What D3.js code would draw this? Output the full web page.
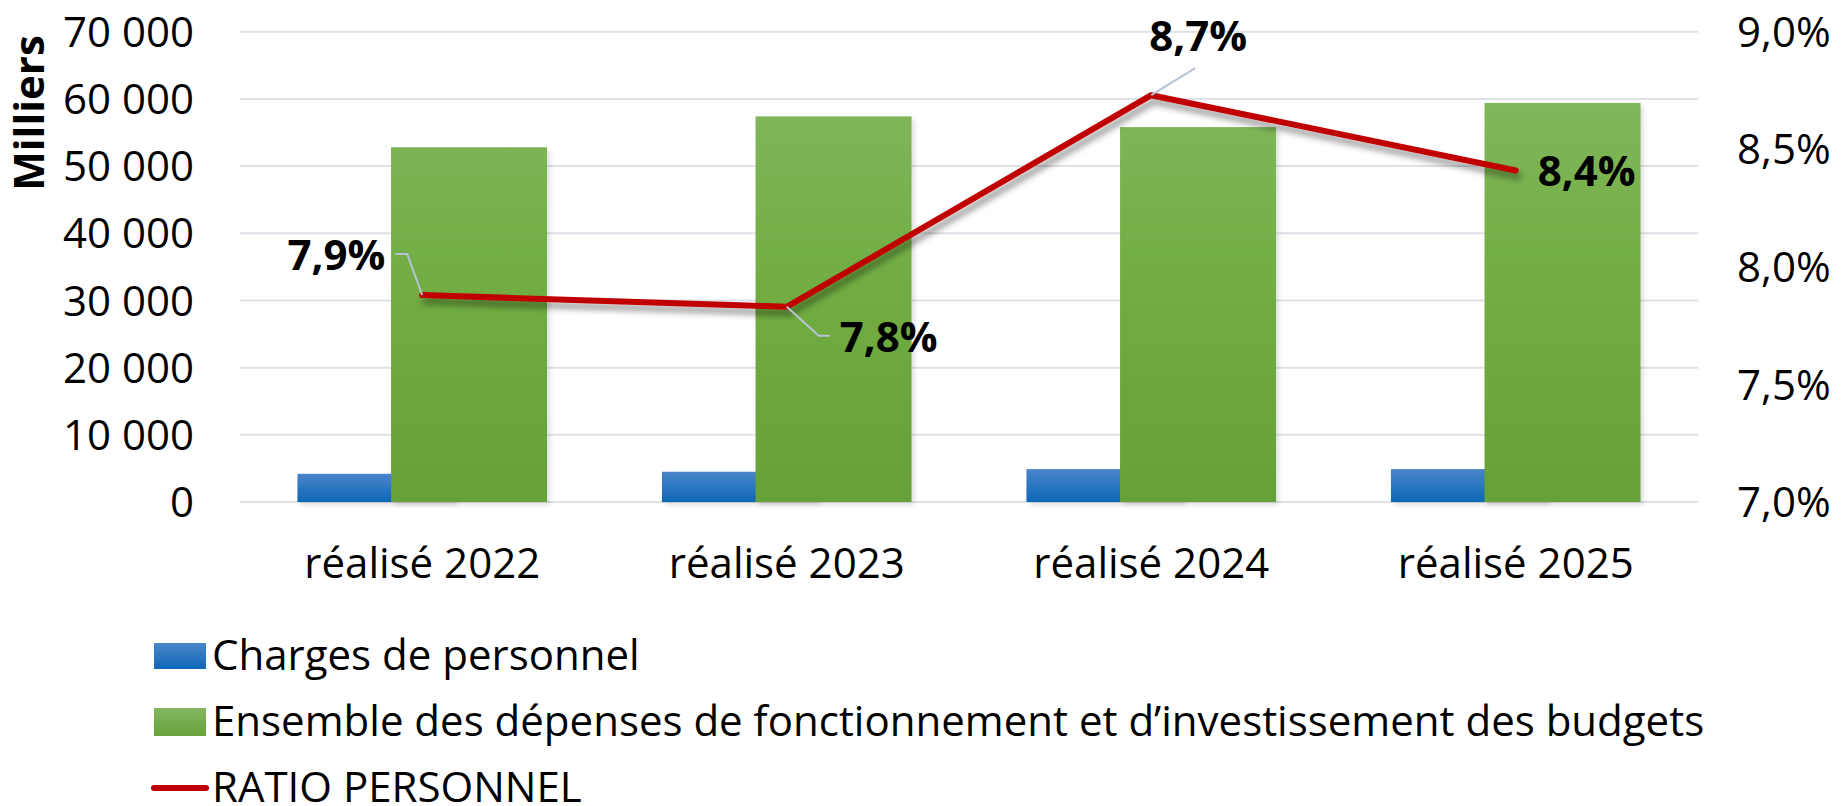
<!DOCTYPE html>
<html>
<head>
<meta charset="utf-8">
<script src="https://cdn.jsdelivr.net/npm/d3@7"></script>
<style>
  html, body { margin: 0; padding: 0; background: #fff; }
  svg text { font-family: "Open Sans", "Noto Sans", sans-serif; fill: #000; }
</style>
</head>
<body>
<svg width="1843" height="806"></svg>
<script>
// données
const categories = ['réalisé 2022', 'réalisé 2023', 'réalisé 2024', 'réalisé 2025'];
const charges = [4200, 4500, 4900, 4900];          // Charges de personnel (milliers)
const depenses = [52800, 57400, 55800, 59400];     // Ensemble des dépenses
const ratio = [7.88, 7.83, 8.73, 8.41];            // RATIO PERSONNEL (%)
const ratioLabels = ['7,9%', '7,8%', '8,7%', '8,4%'];
const leftTicks = [0, 10000, 20000, 30000, 40000, 50000, 60000, 70000];
const rightTicks = [7.0, 7.5, 8.0, 8.5, 9.0];
const legendLabels = ['Charges de personnel',
    'Ensemble des dépenses de fonctionnement et d\u2019investissement des budgets',
    'RATIO PERSONNEL'];

// placement des étiquettes (décalage par rapport au point)
const labelPlacement = [
    { dx: -37, dy: -25, anchor: 'end', leader: [[0, 0], [-15, -41], [-27, -41]] },
    { dx: 53, dy: 45, anchor: 'start', leader: [[0, 0], [32, 29], [43, 29]] },
    { dx: -2, dy: -44, anchor: 'start', leader: [[0, 0], [44, -27]] },
    { dx: 22, dy: 16, anchor: 'start', leader: null }
];

function render() {
    const svg = d3.select('svg');
    const left = 240, right = 1698, top = 31.7, bottom = 502;
    const fs = '42px';

    const x = d3.scaleBand().domain(categories).range([left, right]);
    const yLeft = d3.scaleLinear().domain([0, 70000]).range([bottom, top]);
    const yRight = d3.scaleLinear().domain([7, 9]).range([bottom, top]);

    const barW = x.bandwidth() * 0.428;
    const overlap = barW * 0.4;
    const cluster = barW * 2 - overlap;

    const defs = svg.append('defs');
    const gBlue = defs.append('linearGradient').attr('id', 'gBlue')
        .attr('x1', 0).attr('y1', 0).attr('x2', 0).attr('y2', 1);
    gBlue.append('stop').attr('offset', '0%').attr('stop-color', '#4a85c9');
    gBlue.append('stop').attr('offset', '100%').attr('stop-color', '#0e67b8');
    const gGreen = defs.append('linearGradient').attr('id', 'gGreen')
        .attr('gradientUnits', 'userSpaceOnUse')
        .attr('x1', 0).attr('y1', top).attr('x2', 0).attr('y2', bottom);
    gGreen.append('stop').attr('offset', '0%').attr('stop-color', '#86b965');
    gGreen.append('stop').attr('offset', '50%').attr('stop-color', '#72ae44');
    gGreen.append('stop').attr('offset', '100%').attr('stop-color', '#66a037');
    const gGreenKey = defs.append('linearGradient').attr('id', 'gGreenKey')
        .attr('x1', 0).attr('y1', 0).attr('x2', 0).attr('y2', 1);
    gGreenKey.append('stop').attr('offset', '0%').attr('stop-color', '#84b763');
    gGreenKey.append('stop').attr('offset', '100%').attr('stop-color', '#67a139');

    defs.append('filter').attr('id', 'barShadow')
        .attr('x', '-10%').attr('y', '-10%').attr('width', '130%').attr('height', '130%')
        .append('feDropShadow').attr('dx', 3).attr('dy', 3).attr('stdDeviation', 2)
        .attr('flood-color', '#000').attr('flood-opacity', 0.12);
    defs.append('filter').attr('id', 'lineShadow')
        .attr('x', '-10%').attr('y', '-30%').attr('width', '130%').attr('height', '160%')
        .append('feDropShadow').attr('dx', 3).attr('dy', 6).attr('stdDeviation', 3)
        .attr('flood-color', '#000').attr('flood-opacity', 0.4);

    // grille
    svg.append('g').selectAll('line')
        .data(leftTicks)
        .enter().append('line')
        .attr('x1', left).attr('x2', right)
        .attr('y1', d => yLeft(d)).attr('y2', d => yLeft(d))
        .attr('stroke', '#dde2e8').attr('stroke-width', 2);

    const locale = d3.formatLocale({ decimal: ',', thousands: ' ', grouping: [3] });
    const fmtLeft = locale.format(',d');
    const fmtRight = locale.format('.1f');

    // axe gauche
    svg.append('g').selectAll('text')
        .data(leftTicks)
        .enter().append('text')
        .attr('x', 194)
        .attr('y', d => yLeft(d))
        .attr('dy', '0.36em')
        .attr('text-anchor', 'end')
        .style('font-size', fs)
        .text(d => fmtLeft(d));

    // axe droit
    svg.append('g').selectAll('text')
        .data(rightTicks)
        .enter().append('text')
        .attr('x', 1737)
        .attr('y', d => yRight(d))
        .attr('dy', '0.36em')
        .style('font-size', fs)
        .text(d => fmtRight(d) + '%');

    svg.append('text')
        .attr('transform', 'translate(44,113) rotate(-90)')
        .attr('text-anchor', 'middle')
        .style('font-size', fs)
        .style('font-weight', 'bold')
        .text('Milliers');

    // catégories
    svg.append('g').selectAll('text')
        .data(categories)
        .enter().append('text')
        .attr('x', d => x(d) + x.bandwidth() / 2)
        .attr('y', 578)
        .attr('text-anchor', 'middle')
        .style('font-size', fs)
        .text(d => d);

    // barres
    const bars = svg.append('g');
    bars.selectAll('rect.charges')
        .data(charges)
        .enter().append('rect')
        .attr('class', 'charges')
        .attr('x', (d, i) => x(categories[i]) + (x.bandwidth() - cluster) / 2)
        .attr('y', d => yLeft(d))
        .attr('width', barW)
        .attr('height', d => bottom - yLeft(d))
        .attr('fill', 'url(#gBlue)')
        .attr('filter', 'url(#barShadow)');
    bars.selectAll('rect.depenses')
        .data(depenses)
        .enter().append('rect')
        .attr('class', 'depenses')
        .attr('x', (d, i) => x(categories[i]) + (x.bandwidth() - cluster) / 2 + barW - overlap)
        .attr('y', d => yLeft(d))
        .attr('width', barW)
        .attr('height', d => bottom - yLeft(d))
        .attr('fill', 'url(#gGreen)')
        .attr('filter', 'url(#barShadow)');

    // ligne du ratio
    const pts = ratio.map((v, i) => [x(categories[i]) + x.bandwidth() / 2, yRight(v)]);
    svg.append('path')
        .datum(pts)
        .attr('d', d3.line())
        .attr('fill', 'none')
        .attr('stroke', '#c00000')
        .attr('stroke-width', 6)
        .attr('stroke-linecap', 'round')
        .attr('stroke-linejoin', 'round')
        .attr('filter', 'url(#lineShadow)');

    // étiquettes et lignes de rappel
    pts.forEach((p, i) => {
        const pl = labelPlacement[i];
        if (pl.leader) {
            svg.append('path')
                .datum(pl.leader.map(o => [p[0] + o[0], p[1] + o[1]]))
                .attr('d', d3.line())
                .attr('fill', 'none')
                .attr('stroke', '#b7c3d2')
                .attr('stroke-width', 2);
        }
        svg.append('text')
            .attr('x', p[0] + pl.dx)
            .attr('y', p[1] + pl.dy)
            .attr('text-anchor', pl.anchor)
            .style('font-size', fs)
            .style('font-weight', 'bold')
            .text(ratioLabels[i]);
    });

    // légende
    const legend = svg.append('g');
    const legY = [656, 722, 788];
    legend.append('rect').attr('x', 154).attr('y', legY[0] - 13).attr('width', 52).attr('height', 26)
        .attr('fill', 'url(#gBlue)');
    legend.append('rect').attr('x', 154).attr('y', legY[1] - 14).attr('width', 52).attr('height', 28)
        .attr('fill', 'url(#gGreenKey)');
    legend.append('line').attr('x1', 154).attr('x2', 206).attr('y1', legY[2]).attr('y2', legY[2])
        .attr('stroke', '#c00000').attr('stroke-width', 6).attr('stroke-linecap', 'round');
    legend.selectAll('text')
        .data(legendLabels)
        .enter().append('text')
        .attr('x', 212)
        .attr('y', (d, i) => legY[i] + 14)
        .style('font-size', fs)
        .text(d => d);
}

render();
</script>
</body>
</html>
